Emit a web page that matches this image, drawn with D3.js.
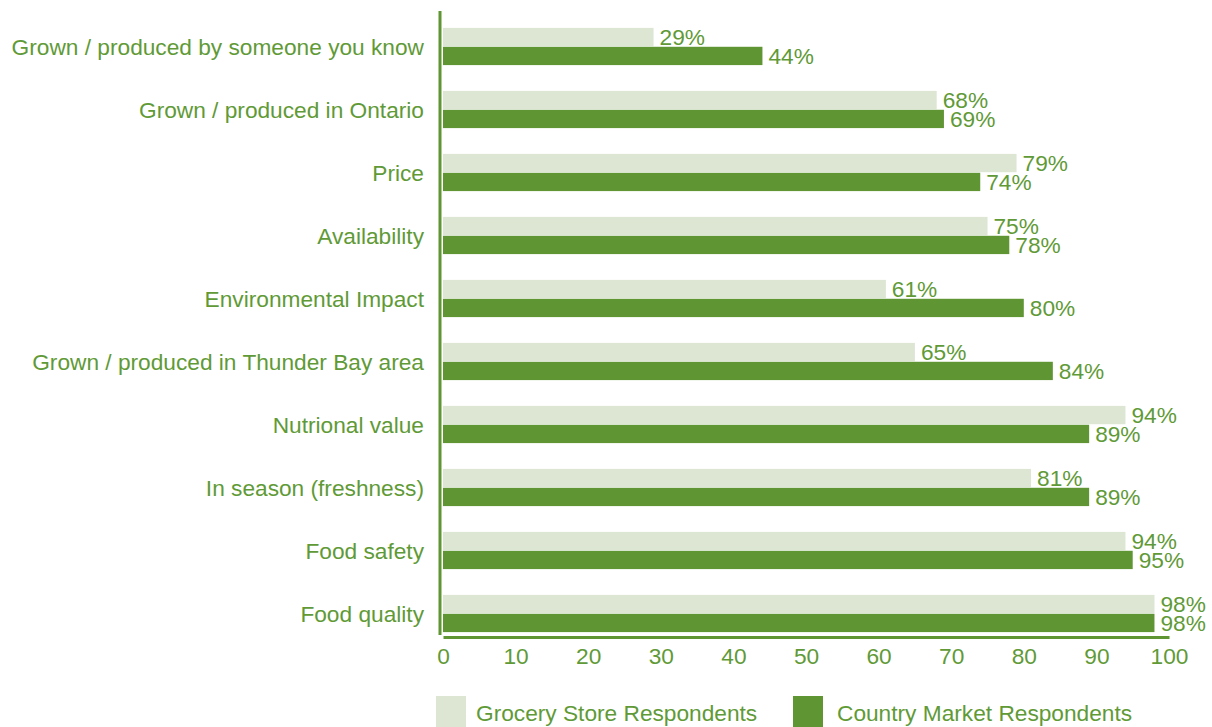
<!DOCTYPE html>
<html>
<head>
<meta charset="utf-8">
<script src="https://cdn.jsdelivr.net/npm/d3@7"></script>
<style>
  body { margin: 0; background: #fff; }
  svg text { font-family: "Liberation Sans", Arial, sans-serif; fill: #5f9a37; }
</style>
</head>
<body>
<svg id="chart" width="1212" height="727"></svg>
<script>
var categories = [
  "Grown / produced by someone you know",
  "Grown / produced in Ontario",
  "Price",
  "Availability",
  "Environmental Impact",
  "Grown / produced in Thunder Bay area",
  "Nutrional value",
  "In season (freshness)",
  "Food safety",
  "Food quality"
];
var grocery = [29, 68, 79, 75, 61, 65, 94, 81, 94, 98];
var market  = [44, 69, 74, 78, 80, 84, 89, 89, 95, 98];
var series_names = ["Grocery Store Respondents", "Country Market Respondents"];
var ticks = [0, 10, 20, 30, 40, 50, 60, 70, 80, 90, 100];

const LIGHT = "#dce6d2";
const DARK = "#5f9633";
const TEXT = "#5f9a37";
const FONT = 22.7;

var svg = d3.select("#chart");

var x = d3.scaleLinear().domain([0, 100]).range([443, 1169]);
var y = d3.scaleBand()
    .domain(categories)
    .range([15, 645])
    .paddingInner(0.41)
    .paddingOuter(0.205);
var sub = d3.scaleBand()
    .domain([0, 1])
    .range([0, y.bandwidth()])
    .paddingInner(0.03);

var series = [grocery, market];
var colors = [LIGHT, DARK];

// bars + value labels
categories.forEach(function(c, i) {
    var g = svg.append("g").attr("transform", "translate(0," + y(c) + ")");
    series.forEach(function(s, k) {
        g.append("rect")
            .attr("x", x(0))
            .attr("y", sub(k))
            .attr("width", x(s[i]) - x(0))
            .attr("height", sub.bandwidth())
            .attr("fill", colors[k]);
        g.append("text")
            .attr("x", x(s[i]) + 6)
            .attr("y", sub(k) + sub.bandwidth() / 2)
            .attr("dy", "0.36em")
            .attr("font-size", FONT)
            .text(s[i] + "%");
    });
    // category label
    svg.append("text")
        .attr("x", 424)
        .attr("y", y(c) + y.bandwidth() / 2)
        .attr("dy", "0.36em")
        .attr("text-anchor", "end")
        .attr("font-size", FONT)
        .text(c);
});

// axis lines
svg.append("line")
    .attr("x1", 440).attr("x2", 440)
    .attr("y1", 11).attr("y2", 635)
    .attr("stroke", DARK).attr("stroke-width", 3);

var x_axis = d3.axisBottom(x).tickValues(ticks).tickSize(0).tickPadding(11);
var ax = svg.append("g")
    .attr("transform", "translate(0,637)")
    .call(x_axis);
ax.select(".domain").attr("stroke", DARK).attr("stroke-width", 3);
ax.selectAll("text")
    .attr("font-size", FONT)
    .attr("font-family", "Liberation Sans, Arial, sans-serif")
    .attr("fill", TEXT);

// legend
var legend_x = [436, 793];
var legend_text_x = [476, 837];
series_names.forEach(function(name, k) {
    svg.append("rect")
        .attr("x", legend_x[k]).attr("y", 696)
        .attr("width", 30).attr("height", 31)
        .attr("fill", colors[k]);
    svg.append("text")
        .attr("x", legend_text_x[k])
        .attr("y", 713)
        .attr("dy", "0.36em")
        .attr("font-size", FONT)
        .text(name);
});
</script>
</body>
</html>
